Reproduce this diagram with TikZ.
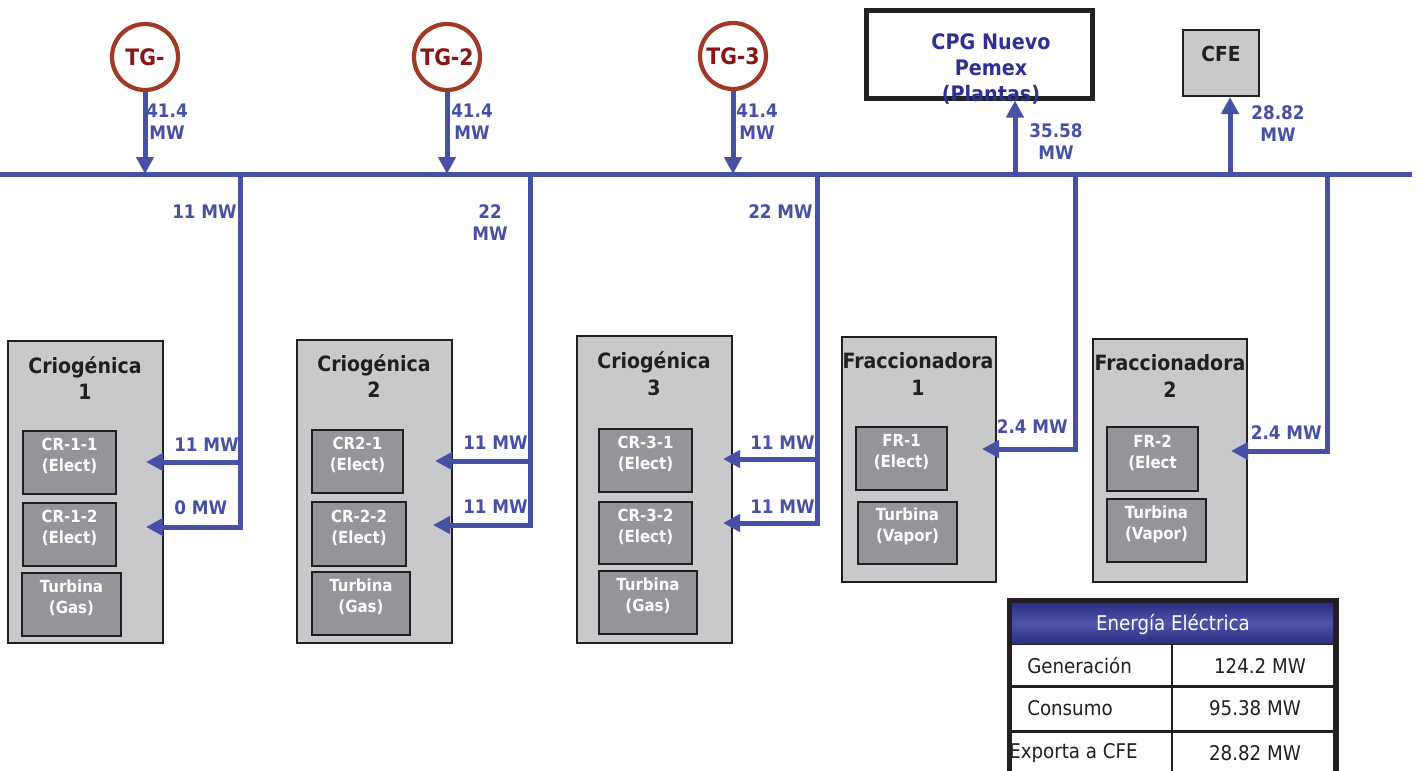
\documentclass[tikz,border=0pt]{standalone}
\usepackage{fontspec}
\setmainfont{DejaVu Sans Condensed}
\usetikzlibrary{arrows.meta,fit}
\definecolor{flowblue}{RGB}{70,80,165}
\definecolor{tgred}{RGB}{160,58,38}
\definecolor{tgtext}{RGB}{135,22,22}
\definecolor{navy}{RGB}{46,49,146}
\definecolor{boxgray}{RGB}{200,201,203}
\definecolor{innergray}{RGB}{147,149,152}
\definecolor{edge}{RGB}{35,31,32}
\definecolor{hdrdark}{RGB}{43,46,130}
\definecolor{hdrlight}{RGB}{78,84,170}
\newcommand{\fsz}[2]{\fontsize{#1}{#2}\selectfont}
\begin{document}
\begin{tikzpicture}[x=0.75pt,y=-0.75pt,
  flow/.style={draw=flowblue,line width=3.75pt},
  arr/.style={-{Triangle[length=12.75pt,width=12.75pt]}},
  tg/.style={circle,draw=tgred,line width=3.2pt,fill=white,minimum size=49.5pt,inner sep=0pt,text=tgtext,font=\fsz{17}{20}\bfseries},
  val/.style={inner sep=0pt,text=flowblue,font=\fsz{14}{16.5}\bfseries,align=center},
  obox/.style={draw=edge,line width=1.5pt,fill=boxgray,inner sep=0pt},
  ibox/.style={draw=edge,line width=1.5pt,fill=innergray,inner sep=0pt,text=white,align=center,font=\fsz{12.5}{15.75}\bfseries},
  boxtitle/.style={inner sep=0pt,align=center,text=edge,font=\fsz{15.8}{20}\bfseries},
  tcell/.style={fill=white,inner sep=0pt},
  celltext/.style={inner sep=0pt,text=edge,font=\fsz{15.2}{18}},
]
\useasboundingbox (0,0) rectangle (1422,771);

% ---------- plant boxes ----------
\node[obox,fit={(8,341)(163,643)}] (crio1) {};
\node[boxtitle] (crio1t) at (85,378) {Criogénica\\1};
\node[ibox,fit={(23,431)(116,494)}] (cr11) {CR-1-1\\(Elect)};
\node[ibox,fit={(23,503)(116,566)}] (cr12) {CR-1-2\\(Elect)};
\node[ibox,fit={(22,573)(121,636)}] (tur1) {Turbina\\(Gas)};

\node[obox,fit={(297,340)(452,643)}] (crio2) {};
\node[boxtitle] (crio2t) at (374,376) {Criogénica\\2};
\node[ibox,fit={(312,430)(403,493)}] (cr21) {CR2-1\\(Elect)};
\node[ibox,fit={(312,502)(406,566)}] (cr22) {CR-2-2\\(Elect)};
\node[ibox,fit={(312,572)(410,635)}] (tur2) {Turbina\\(Gas)};

\node[obox,fit={(577,336)(732,643)}] (crio3) {};
\node[boxtitle] (crio3t) at (654,374) {Criogénica\\3};
\node[ibox,fit={(599,429)(692,492)}] (cr31) {CR-3-1\\(Elect)};
\node[ibox,fit={(599,502)(692,564)}] (cr32) {CR-3-2\\(Elect)};
\node[ibox,fit={(599,571)(697,634)}] (tur3) {Turbina\\(Gas)};

\node[obox,fit={(842,337)(996,582)}] (frac1) {};
\node[boxtitle] (frac1t) at (918,374) {Fraccionadora\\1};
\node[ibox,fit={(856,427)(947,490)}] (fr1) {FR-1\\(Elect)};
\node[ibox,fit={(858,502)(957,564)}] (tv1) {Turbina\\(Vapor)};

\node[obox,fit={(1093,339)(1247,582)}] (frac2) {};
\node[boxtitle] (frac2t) at (1170,376) {Fraccionadora\\2};
\node[ibox,fit={(1107,427)(1198,491)}] (fr2) {FR-2\\(Elect};
\node[ibox,fit={(1107,499)(1206,562)}] (tv2) {Turbina\\(Vapor)};

% ---------- top sources / sinks ----------
\node[tg] (tg1) at (145,57) {TG-};
\node[tg] (tg2) at (447,57) {TG-2};
\node[tg] (tg3) at (733,56) {TG-3};

\node[draw=edge,line width=3.75pt,fill=white,inner sep=0pt,fit={(866,10)(1092,98)}] (cpg) {};
\node[inner sep=0pt,align=center,text=navy,font=\fsz{16}{19.5}\bfseries] (cpgt) at (991,69) {CPG Nuevo\\Pemex\\(Plantas)};

\node[draw=edge,line width=1.5pt,fill=boxgray,inner sep=0pt,fit={(1183,30)(1259,96)}] (cfe) {};
\node[inner sep=0pt,text=edge,font=\fsz{15.5}{18}\bfseries] (cfet) at (1221,54) {CFE};

% ---------- bus ----------
\coordinate (busL) at (0,174);
\coordinate (busR) at (1412,174);
\draw[flow] (busL) -- (busR);

\coordinate (in1) at (145,174);
\coordinate (in2) at (447,174);
\coordinate (in3) at (733,174);
\draw[flow,arr] (tg1) -- (in1);
\draw[flow,arr] (tg2) -- (in2);
\draw[flow,arr] (tg3) -- (in3);

\coordinate (out1) at (1015,174);
\coordinate (out2) at (1230,174);
\draw[flow,arr] (out1) -- (cpg.south -| out1);
\draw[flow,arr] (out2) -- (cfe.south -| out2);

% drop 1
\coordinate (d1t) at (240,174);
\coordinate (d1m) at (240,462);
\coordinate (d1b) at (240,527);
\coordinate (t11) at (146,462);
\coordinate (t12) at (146,527);
\draw[flow,arr] (d1t) -- (d1b) -- (t12);
\draw[flow,arr] (d1m) -- (t11);
% drop 2
\coordinate (d2t) at (530,174);
\coordinate (d2m) at (530,461);
\coordinate (d2b) at (530,525);
\coordinate (t21) at (435,461);
\coordinate (t22) at (433,525);
\draw[flow,arr] (d2t) -- (d2b) -- (t22);
\draw[flow,arr] (d2m) -- (t21);
% drop 3
\coordinate (d3t) at (817,174);
\coordinate (d3m) at (817,459);
\coordinate (d3b) at (817,523);
\coordinate (t31) at (723,459);
\coordinate (t32) at (723,523);
\draw[flow,arr] (d3t) -- (d3b) -- (t32);
\draw[flow,arr] (d3m) -- (t31);
% drop 4
\coordinate (d4t) at (1075,174);
\coordinate (d4b) at (1075,449);
\coordinate (t41) at (982,449);
\draw[flow,arr] (d4t) -- (d4b) -- (t41);
% drop 5
\coordinate (d5t) at (1327,174);
\coordinate (d5b) at (1327,451);
\coordinate (t51) at (1231,451);
\draw[flow,arr] (d5t) -- (d5b) -- (t51);

% ---------- flow labels ----------
\node[val] (v1) at (167,122) {41.4\\MW};
\node[val] (v2) at (472,122) {41.4\\MW};
\node[val] (v3) at (757,122) {41.4\\MW};
\node[val] (v4) at (1056,142) {35.58\\MW};
\node[val] (v5) at (1278,124) {28.82\\MW};
\node[val,anchor=east] (v6) at (237,212) {11 MW};
\node[val] (v7) at (490,223) {22\\MW};
\node[val,anchor=east] (v8) at (813,212) {22 MW};
\node[val,anchor=west] (v9) at (174,445) {11 MW};
\node[val,anchor=west] (v10) at (174,508) {0 MW};
\node[val,anchor=east] (v11) at (528,443) {11 MW};
\node[val,anchor=east] (v12) at (528,507) {11 MW};
\node[val,anchor=east] (v13) at (815,443) {11 MW};
\node[val,anchor=east] (v14) at (815,507) {11 MW};
\node[val,anchor=east] (v15) at (1068,427) {2.4 MW};
\node[val,anchor=east] (v16) at (1322,433) {2.4 MW};

% ---------- table ----------
\node[fill=edge,inner sep=0pt,fit={(1007,598)(1339,771)}] (tab) {};
\node[inner sep=0pt,top color=hdrdark,bottom color=hdrdark,middle color=hdrlight,fit={(1012,603)(1333,643)}] (hdr) {};
\node[inner sep=0pt,text=white,font=\fsz{15.2}{18}] (hdrt) at (1173,624) {Energía Eléctrica};
\node[tcell,fit={(1012,645)(1171,685)}] (c11) {};
\node[tcell,fit={(1173,645)(1333,685)}] (c12) {};
\node[tcell,fit={(1012,688)(1171,730)}] (c21) {};
\node[tcell,fit={(1173,688)(1333,730)}] (c22) {};
\node[tcell,fit={(1012,733)(1171,771)}] (c31) {};
\node[tcell,fit={(1173,733)(1333,771)}] (c32) {};
\node[celltext,anchor=west] (g1) at (1027,666) {Generación};
\node[celltext] (g2) at (1260,666) {124.2 MW};
\node[celltext,anchor=west] (k1) at (1027,708) {Consumo};
\node[celltext] (k2) at (1255,708) {95.38 MW};
\node[celltext,anchor=west] (e1) at (1009,753) {Exporta a CFE};
\node[celltext] (e2) at (1255,753) {28.82 MW};
\fill[edge] (1007,733) rectangle (1012,771);
\end{tikzpicture}
\end{document}
